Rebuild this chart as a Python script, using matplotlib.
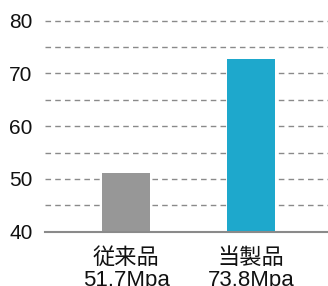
import matplotlib
matplotlib.use("Agg")
import matplotlib.pyplot as plt

# data
products = ["従来品", "当製品"]
strength_labels = ["51.7Mpa", "73.8Mpa"]
bar_heights = [51.1, 72.7]
bar_colors = ["#979797", "#1ea8cc"]
y_ticks = [40, 50, 60, 70, 80]
grid_levels = [45, 50, 55, 60, 65, 70, 75, 80]

plt.rcParams['font.family'] = ['Liberation Sans', 'Noto Sans CJK JP', 'DejaVu Sans']

fig = plt.figure(figsize=(3.28, 2.86), dpi=100)
ax = fig.add_axes([45 / 328, (286 - 231.7) / 286, 283 / 328, 231.7 / 286])

for lv in grid_levels:
    ax.axhline(lv, color="#8a8a8a", linestyle=(0, (4, 3)), linewidth=1.0, zorder=1)

x = range(len(products))
ax.bar(x, [h - 40 for h in bar_heights], bottom=40, width=0.384, color=bar_colors, zorder=2)

ax.set_xlim(-0.648, 1.616)
ax.set_ylim(40, 83.9)
ax.set_yticks(y_ticks)
ax.set_yticklabels([str(t) for t in y_ticks], fontsize=15, color="#111111")
ax.set_xticks(list(x))
ax.set_xticklabels([p + "\n" + s for p, s in zip(products, strength_labels)],
                   fontsize=16, linespacing=1.05, color="#111111")
ax.tick_params(axis='y', length=0, pad=9)
ax.tick_params(axis='x', length=0, pad=12)

for side in ["top", "right", "left"]:
    ax.spines[side].set_visible(False)
ax.spines["bottom"].set_color("#8a8a8a")
ax.spines["bottom"].set_linewidth(1.5)
ax.spines["bottom"].set_zorder(3)

fig.savefig("out.png", dpi=100)
